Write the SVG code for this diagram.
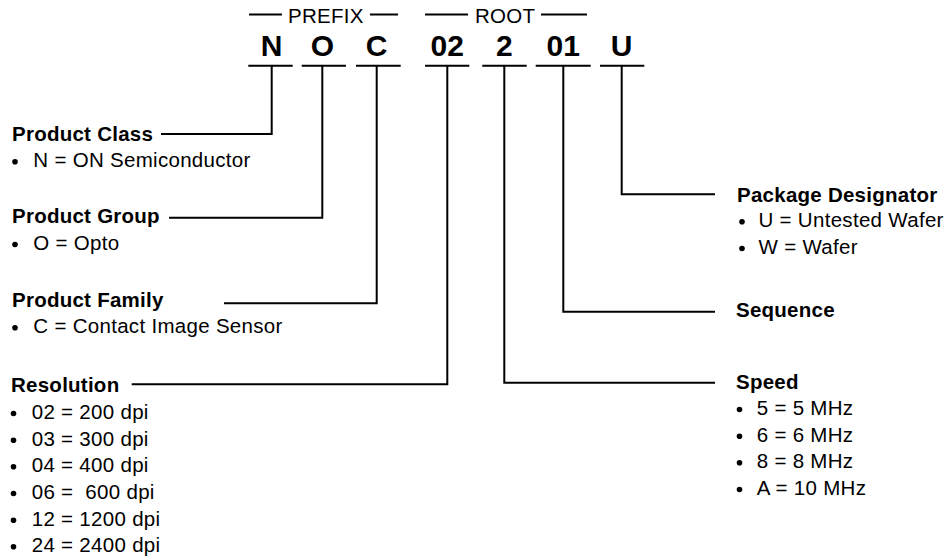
<svg xmlns="http://www.w3.org/2000/svg" width="949" height="560" viewBox="0 0 949 560">
<style>
text{font-family:"Liberation Sans",Arial,Helvetica,sans-serif;fill:#000}
.h{font-size:20.5px;font-weight:bold;letter-spacing:0.25px}
.t{font-size:20.5px;letter-spacing:0.3px}
.big{font-size:30px;font-weight:bold;text-anchor:middle}
.ln{fill:none;stroke:#000;stroke-width:2}
.bl{fill:#000}
</style>
<rect width="949" height="560" fill="#fff"/>
<g id="prefix-label">
<line class="ln" x1="249" y1="14.5" x2="282" y2="14.5" stroke-width="1.7"/>
<text class="t" x="288" y="22.7">PREFIX</text>
<line class="ln" x1="370" y1="14.5" x2="398" y2="14.5" stroke-width="1.7"/>
</g>
<g id="root-label">
<line class="ln" x1="425" y1="14.5" x2="468" y2="14.5" stroke-width="1.7"/>
<text class="t" x="475" y="22.7">ROOT</text>
<line class="ln" x1="541" y1="14.5" x2="587" y2="14.5" stroke-width="1.7"/>
</g>
<g id="code-N"><text class="big" x="271.7" y="56">N</text></g>
<g id="code-O"><text class="big" x="322.3" y="56">O</text></g>
<g id="code-C"><text class="big" x="376.7" y="56">C</text></g>
<g id="code-02"><text class="big" x="447.3" y="56">02</text></g>
<g id="code-2"><text class="big" x="504.3" y="56">2</text></g>
<g id="code-01"><text class="big" x="563.3" y="56">01</text></g>
<g id="code-U"><text class="big" x="621.7" y="56">U</text></g>
<g id="connectors">
<path class="ln" d="M248.3 65.7H292.7M271.7 65.7V134H161"/>
<path class="ln" d="M301.7 65.7H346M322.3 65.7V217.7H169"/>
<path class="ln" d="M356 65.7H400.7M376.7 65.7V303.3H224"/>
<path class="ln" d="M425 65.7H469.3M447.3 65.7V384.3H131.7"/>
<path class="ln" d="M482.3 65.7H526.7M504.3 65.7V382.7H715"/>
<path class="ln" d="M535.7 65.7H590.7M563.3 65.7V311.7H715"/>
<path class="ln" d="M600 65.7H644.3M621.7 65.7V194.3H715"/>
</g>
<g id="product-class">
<text class="h" x="12" y="140.7">Product Class</text>
<circle class="bl" cx="15" cy="161.7" r="2.8"/>
<text class="t" x="33.3" y="167">N = ON Semiconductor</text>
</g>
<g id="product-group">
<text class="h" x="12" y="223.3">Product Group</text>
<circle class="bl" cx="15" cy="244.5" r="2.8"/>
<text class="t" x="33.3" y="250">O = Opto</text>
</g>
<g id="product-family">
<text class="h" x="12" y="306.7">Product Family</text>
<circle class="bl" cx="15" cy="327.8" r="2.8"/>
<text class="t" x="33.3" y="333.3">C = Contact Image Sensor</text>
</g>
<g id="resolution">
<text class="h" x="11" y="392.3">Resolution</text>
<circle class="bl" cx="13.5" cy="413.5" r="2.8"/>
<text class="t" x="31.7" y="419">02 = 200 dpi</text>
<circle class="bl" cx="13.5" cy="440.2" r="2.8"/>
<text class="t" x="31.7" y="445.7">03 = 300 dpi</text>
<circle class="bl" cx="13.5" cy="466.8" r="2.8"/>
<text class="t" x="31.7" y="472.3">04 = 400 dpi</text>
<circle class="bl" cx="13.5" cy="493.5" r="2.8"/>
<text class="t" x="31.7" y="499" xml:space="preserve">06 =  600 dpi</text>
<circle class="bl" cx="13.5" cy="520.2" r="2.8"/>
<text class="t" x="31.7" y="525.7">12 = 1200 dpi</text>
<circle class="bl" cx="13.5" cy="546.8" r="2.8"/>
<text class="t" x="31.7" y="552.3">24 = 2400 dpi</text>
</g>
<g id="package-designator">
<text class="h" x="737" y="202.3">Package Designator</text>
<circle class="bl" cx="742" cy="221.8" r="2.8"/>
<text class="t" x="758.5" y="227.3">U = Untested Wafer</text>
<circle class="bl" cx="742" cy="248.5" r="2.8"/>
<text class="t" x="758.5" y="254">W = Wafer</text>
</g>
<g id="sequence">
<text class="h" x="736" y="317.3">Sequence</text>
</g>
<g id="speed">
<text class="h" x="736" y="389">Speed</text>
<circle class="bl" cx="739.5" cy="409.5" r="2.8"/>
<text class="t" x="756.7" y="415">5 = 5 MHz</text>
<circle class="bl" cx="739.5" cy="436.2" r="2.8"/>
<text class="t" x="756.7" y="441.7">6 = 6 MHz</text>
<circle class="bl" cx="739.5" cy="462.8" r="2.8"/>
<text class="t" x="756.7" y="468.3">8 = 8 MHz</text>
<circle class="bl" cx="739.5" cy="489.5" r="2.8"/>
<text class="t" x="756.7" y="495">A = 10 MHz</text>
</g>
</svg>
